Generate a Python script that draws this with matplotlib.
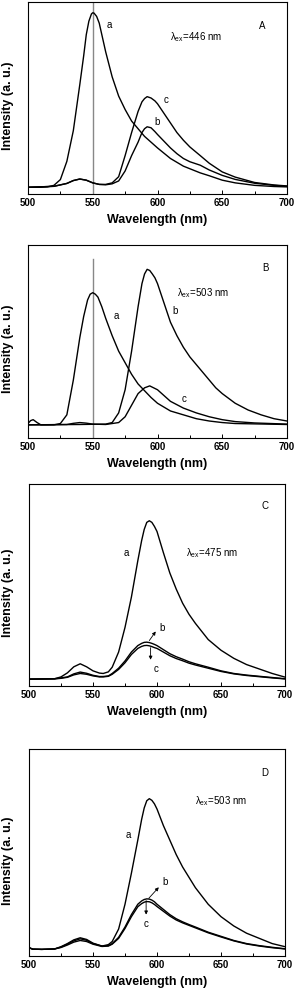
import numpy as np
import matplotlib.pyplot as plt
from matplotlib.ticker import MultipleLocator

plt.rcParams['font.family'] = ['Liberation Sans', 'DejaVu Sans']
plt.rcParams['mathtext.fontset'] = 'custom'
plt.rcParams['mathtext.rm'] = 'Liberation Sans'
plt.rcParams['mathtext.it'] = 'Liberation Sans:italic'

# ---------- panel A (lambda_ex = 446 nm) ----------
wl_A_a = [500, 510, 515, 520, 525, 530, 535, 540, 543, 545, 547, 549, 550, 551, 553, 555, 558, 560,
          565, 570, 575, 580, 585, 590, 595, 600, 610, 620, 633, 640, 650, 660, 675, 690, 700]
int_A_a = [0.035, 0.035, 0.037, 0.045, 0.075, 0.17, 0.33, 0.57, 0.72, 0.83, 0.9, 0.938, 0.944, 0.942,
           0.925, 0.89, 0.8, 0.74, 0.61, 0.51, 0.44, 0.38, 0.34, 0.30, 0.27, 0.24, 0.185, 0.145,
           0.11, 0.095, 0.072, 0.058, 0.045, 0.039, 0.037]
wl_A_b = [500, 520, 530, 535, 540, 545, 550, 555, 560, 565, 570, 575, 580, 585, 588, 590, 592, 595,
          598, 600, 605, 610, 615, 620, 625, 633, 640, 650, 660, 675, 690, 700]
int_A_b = [0.035, 0.04, 0.055, 0.07, 0.078, 0.072, 0.058, 0.05, 0.048, 0.053, 0.068, 0.12, 0.2,
           0.27, 0.32, 0.34, 0.35, 0.345, 0.325, 0.31, 0.275, 0.24, 0.21, 0.185, 0.168, 0.15,
           0.125, 0.097, 0.076, 0.056, 0.045, 0.04]
wl_A_c = [500, 520, 530, 535, 540, 545, 550, 555, 560, 565, 570, 575, 580, 585, 588, 590, 592, 595,
          598, 600, 605, 610, 615, 620, 625, 633, 640, 650, 660, 675, 690, 700]
int_A_c = [0.035, 0.04, 0.055, 0.07, 0.078, 0.072, 0.058, 0.05, 0.05, 0.058, 0.09, 0.2, 0.32, 0.43,
           0.48, 0.497, 0.507, 0.5, 0.485, 0.47, 0.42, 0.37, 0.32, 0.28, 0.245, 0.2, 0.16, 0.115,
           0.088, 0.06, 0.047, 0.042]

# ---------- panel B (lambda_ex = 503 nm) ----------
wl_B_a = [500, 502, 504, 507, 510, 520, 525, 530, 535, 540, 543, 546, 548, 550, 552, 554, 557, 560,
          565, 570, 575, 580, 585, 590, 595, 600, 610, 620, 630, 640, 650, 660, 700]
int_B_a = [0.075, 0.09, 0.095, 0.08, 0.068, 0.068, 0.075, 0.12, 0.3, 0.52, 0.63, 0.715, 0.745, 0.753,
           0.745, 0.73, 0.68, 0.62, 0.53, 0.45, 0.39, 0.33, 0.28, 0.245, 0.21, 0.18, 0.14, 0.12,
           0.1, 0.088, 0.08, 0.075, 0.07]
wl_B_b = [500, 540, 560, 565, 570, 575, 580, 585, 588, 590, 592, 594, 596, 598, 600, 605, 610, 615,
          620, 625, 630, 635, 640, 645, 650, 660, 670, 680, 690, 700]
int_B_b = [0.068, 0.07, 0.072, 0.08, 0.13, 0.25, 0.45, 0.68, 0.8, 0.85, 0.874, 0.868, 0.85, 0.83,
           0.80, 0.70, 0.60, 0.53, 0.47, 0.42, 0.38, 0.34, 0.30, 0.26, 0.23, 0.18, 0.145, 0.12, 0.1,
           0.088]
wl_B_c = [500, 530, 535, 540, 545, 550, 560, 570, 575, 580, 585, 590, 594, 600, 605, 610, 620, 630,
          640, 650, 660, 675, 700]
int_B_c = [0.068, 0.07, 0.076, 0.08, 0.077, 0.072, 0.07, 0.08, 0.11, 0.17, 0.23, 0.26, 0.27, 0.25,
           0.22, 0.19, 0.155, 0.13, 0.11, 0.095, 0.085, 0.078, 0.072]

# ---------- panel C (lambda_ex = 475 nm) ----------
wl_C = [500, 520, 525, 530, 535, 540, 545, 550, 555, 558, 562, 565, 570, 575, 580, 585, 588, 590,
        592, 594, 596, 598, 600, 605, 610, 615, 620, 625, 630, 640, 650, 660, 670, 680, 690, 700]
int_C_a = [0.034, 0.036, 0.045, 0.065, 0.095, 0.11, 0.095, 0.075, 0.064, 0.062, 0.07, 0.093, 0.168,
           0.29, 0.44, 0.62, 0.72, 0.775, 0.81, 0.818, 0.81, 0.79, 0.765, 0.66, 0.56, 0.48, 0.41,
           0.355, 0.31, 0.23, 0.177, 0.137, 0.106, 0.084, 0.062, 0.044]
int_C_b = [0.034, 0.036, 0.04, 0.045, 0.06, 0.069, 0.063, 0.053, 0.047, 0.047, 0.05, 0.062, 0.088,
           0.124, 0.168, 0.2, 0.211, 0.216, 0.217, 0.215, 0.211, 0.206, 0.2, 0.18, 0.16, 0.145,
           0.133, 0.12, 0.11, 0.093, 0.075, 0.062, 0.054, 0.048, 0.042, 0.036]
int_C_c = [0.034, 0.035, 0.038, 0.043, 0.055, 0.062, 0.058, 0.05, 0.045, 0.045, 0.048, 0.058, 0.082,
           0.115, 0.156, 0.186, 0.196, 0.2, 0.201, 0.199, 0.195, 0.19, 0.186, 0.168, 0.15, 0.136,
           0.125, 0.113, 0.104, 0.088, 0.072, 0.06, 0.052, 0.046, 0.04, 0.035]

# ---------- panel D (lambda_ex = 503 nm) ----------
wl_D = [500, 503, 510, 520, 525, 530, 535, 540, 545, 550, 557, 562, 565, 570, 575, 580, 585, 588,
        590, 592, 594, 596, 598, 600, 605, 610, 615, 620, 625, 630, 640, 650, 660, 670, 680, 690, 700]
int_D_a = [0.04, 0.033, 0.032, 0.034, 0.045, 0.06, 0.078, 0.088, 0.08, 0.062, 0.048, 0.055, 0.07,
           0.13, 0.25, 0.4, 0.56, 0.66, 0.715, 0.75, 0.76, 0.752, 0.735, 0.71, 0.63, 0.56, 0.49,
           0.43, 0.38, 0.33, 0.25, 0.19, 0.145, 0.11, 0.085, 0.06, 0.045]
int_D_b = [0.04, 0.033, 0.032, 0.034, 0.043, 0.057, 0.073, 0.083, 0.076, 0.06, 0.048, 0.05, 0.06,
           0.09, 0.14, 0.2, 0.25, 0.266, 0.273, 0.276, 0.275, 0.27, 0.262, 0.25, 0.225, 0.2, 0.18,
           0.165, 0.152, 0.14, 0.115, 0.095, 0.075, 0.06, 0.05, 0.042, 0.035]
int_D_c = [0.04, 0.033, 0.032, 0.034, 0.041, 0.053, 0.067, 0.075, 0.07, 0.057, 0.046, 0.048, 0.057,
           0.085, 0.133, 0.19, 0.238, 0.253, 0.26, 0.263, 0.262, 0.257, 0.249, 0.239, 0.216, 0.193,
           0.174, 0.16, 0.148, 0.136, 0.112, 0.092, 0.073, 0.058, 0.048, 0.04, 0.034]

W, H = 296, 992
fig = plt.figure(figsize=(W / 100, H / 100), dpi=100)


def make_axes(left, right, top, bottom):
    ax = fig.add_axes([left / W, 1 - bottom / H, (right - left) / W, (bottom - top) / H])
    ax.set_xlim(500, 700)
    ax.set_ylim(0, 1)
    ax.xaxis.set_major_locator(MultipleLocator(50))
    ax.xaxis.set_minor_locator(MultipleLocator(25))
    ax.tick_params(axis='x', which='both', direction='in', top=False, pad=3,
                   labelsize=7)
    ax.tick_params(axis='x', which='major', length=3, width=0.7)
    ax.tick_params(axis='x', which='minor', length=2, width=0.7)
    ax.tick_params(axis='y', left=False, labelleft=False)
    for lab in ax.get_xticklabels():
        lab.set_fontweight('bold')
    for s in ax.spines.values():
        s.set_linewidth(0.8)
    ax.set_xlabel('Wavelength (nm)', fontsize=9, fontweight='bold', labelpad=4.5)
    ax.set_ylabel('Intensity (a. u.)', fontsize=9, fontweight='bold')
    ax.yaxis.set_label_coords((14 - left) / (right - left), 0.46)
    return ax


def arrow(ax, tail, head):
    ax.annotate('', xy=head, xytext=tail,
                arrowprops=dict(arrowstyle='-|>', lw=0.6, color='black',
                                mutation_scale=5, shrinkA=0, shrinkB=0))


def lam(nm):
    return 'λ$_{\\mathregular{ex}}$=%d nm' % nm


lw = 1.0
tfs = 7

# A
ax = make_axes(28, 287, 2, 194)
ax.axvline(550, color='#888888', lw=1.0)
ax.plot(wl_A_a, int_A_a, color='black', lw=lw)
ax.plot(wl_A_b, int_A_b, color='black', lw=lw)
ax.plot(wl_A_c, int_A_c, color='black', lw=lw)
ax.text(561, 0.88, 'a', fontsize=tfs, va='center')
ax.text(605, 0.49, 'c', fontsize=tfs, va='center')
ax.text(597.5, 0.374, 'b', fontsize=tfs, va='center')
ax.text(609.7, 0.815, lam(446), fontsize=tfs, va='center')
ax.text(678.6, 0.874, 'A', fontsize=tfs, va='center')

# B
ax = make_axes(28, 287, 245, 438)
ax.plot([550, 550], [0, 0.926], color='#888888', lw=1.0)
ax.plot(wl_B_a, int_B_a, color='black', lw=lw)
ax.plot(wl_B_b, int_B_b, color='black', lw=lw)
ax.plot(wl_B_c, int_B_c, color='black', lw=lw)
ax.text(565.8, 0.633, 'a', fontsize=tfs, va='center')
ax.text(611.5, 0.66, 'b', fontsize=tfs, va='center')
ax.text(618.7, 0.202, 'c', fontsize=tfs, va='center')
ax.text(614.8, 0.75, lam(503), fontsize=tfs, va='center')
ax.text(680.6, 0.879, 'B', fontsize=tfs, va='center')

# C
ax = make_axes(29, 285, 484, 686)
ax.plot(wl_C, int_C_a, color='black', lw=lw)
ax.plot(wl_C, int_C_b, color='black', lw=lw)
ax.plot(wl_C, int_C_c, color='black', lw=lw)
ax.text(574, 0.66, 'a', fontsize=tfs, va='center')
ax.text(602, 0.285, 'b', fontsize=tfs, va='center')
ax.text(597, 0.085, 'c', fontsize=tfs, va='center')
arrow(ax, (594, 0.225), (599, 0.27))
arrow(ax, (595, 0.19), (595, 0.13))
ax.text(623, 0.657, lam(475), fontsize=tfs, va='center')
ax.text(681.7, 0.89, 'C', fontsize=tfs, va='center')

# D
ax = make_axes(29, 285, 749, 956)
ax.plot(wl_D, int_D_a, color='black', lw=lw)
ax.plot(wl_D, int_D_b, color='black', lw=lw)
ax.plot(wl_D, int_D_c, color='black', lw=lw)
ax.text(575.8, 0.583, 'a', fontsize=tfs, va='center')
ax.text(604.6, 0.359, 'b', fontsize=tfs, va='center')
ax.text(591.5, 0.155, 'c', fontsize=tfs, va='center', ha='center')
arrow(ax, (593.6, 0.279), (601.4, 0.332))
arrow(ax, (591.5, 0.268), (591.5, 0.2))
ax.text(629.4, 0.748, lam(503), fontsize=tfs, va='center')
ax.text(681.7, 0.885, 'D', fontsize=tfs, va='center')

fig.savefig('out.png', dpi=100)
